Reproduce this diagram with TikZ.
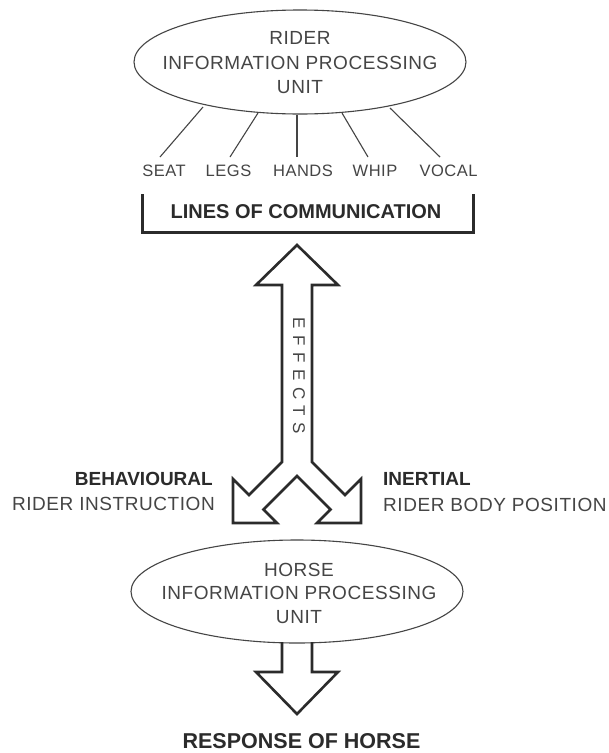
\documentclass[tikz,border=0pt]{standalone}
\usepackage{fontspec}
\setmainfont{Liberation Sans}
\newfontfamily\spacedfont[LetterSpace=3]{Liberation Sans}
\newfontfamily\widefont[LetterSpace=38]{Liberation Sans}
\usetikzlibrary{shapes.geometric}
\definecolor{ink}{HTML}{454545}
\definecolor{darkink}{HTML}{2B2B2B}
\begin{document}
\begin{tikzpicture}[x=1pt,y=-1pt,
  oval/.style={ellipse, draw=ink, line width=1.1pt, inner sep=0pt},
  ovaltext/.style={align=center, text=ink, inner sep=0pt, font=\spacedfont\fontsize{19}{24.5}\selectfont},
  channel/.style={text=ink, inner sep=0pt, anchor=base, font=\spacedfont\fontsize{16.5}{18}\selectfont},
  boldtext/.style={text=darkink, inner sep=0pt, anchor=base, font=\bfseries\fontsize{19}{22}\selectfont},
  plaintext/.style={text=ink, inner sep=0pt, anchor=base, font=\spacedfont\fontsize{19}{22}\selectfont},
  wire/.style={draw=ink, line width=1.1pt},
  blockarrow/.style={draw=darkink, line width=2.6pt, line join=miter},
  bracketline/.style={draw=darkink, line width=3pt}
]
\useasboundingbox (0,0) rectangle (609,753);
\fill[white] (0,0) rectangle (609,753);

% Rider unit
\node[oval, minimum width=332pt, minimum height=104pt] (rider) at (300,62) {};
\node[ovaltext] (ridertext) at (300,63) {RIDER\\INFORMATION PROCESSING\\UNIT};

% channels
\node[channel] (seat)  at (164,176) {SEAT};
\node[channel] (legs)  at (228.5,176) {LEGS};
\node[channel] (hands) at (303,176) {HANDS};
\node[channel] (whip)  at (375,176) {WHIP};
\node[channel] (vocal) at (448.5,176) {VOCAL};

\coordinate (t1) at (203,107);
\coordinate (b1) at (160,157);
\coordinate (t2) at (258,113);
\coordinate (b2) at (230,157);
\coordinate (t3) at (297,115);
\coordinate (b3) at (297,157);
\coordinate (t4) at (342,113);
\coordinate (b4) at (368,157);
\coordinate (t5) at (390,108);
\coordinate (b5) at (440,157);
\draw[wire] (t1) -- (b1);
\draw[wire] (t2) -- (b2);
\draw[wire] (t3) -- (b3);
\draw[wire] (t4) -- (b4);
\draw[wire] (t5) -- (b5);

% lines of communication
\node[boldtext, font=\bfseries\fontsize{20}{22}\selectfont] (loc) at (306,218) {LINES OF COMMUNICATION};
\draw[bracketline] (142,194) -- (142,232) -- (473,232) -- (473,194);

% effects arrow
\draw[blockarrow] (282,462) -- (282,285) -- (256,285) -- (297,245) -- (338,285) -- (312,285)
  -- (312,462) -- (345,495) -- (361,479) -- (361,523) -- (317,523) -- (330.5,509.5)
  -- (297,476) -- (263.5,509.5) -- (277,523) -- (233,523) -- (233,479) -- (249,495) -- cycle;
\node[text=ink, inner sep=0pt, rotate=-90, font=\widefont\fontsize{17}{18}\selectfont] (effects) at (299,376) {EFFECTS};

% side labels
\node[boldtext, anchor=base east] (behav) at (213,485) {BEHAVIOURAL};
\node[plaintext, anchor=base east] (instr) at (215,510) {RIDER INSTRUCTION};
\node[boldtext, anchor=base west] (inert) at (383,485) {INERTIAL};
\node[plaintext, anchor=base west] (bodypos) at (383,511) {RIDER BODY POSITION};

% Horse unit
\node[oval, minimum width=332pt, minimum height=103pt] (horse) at (297,591.5) {};
\node[ovaltext, font=\spacedfont\fontsize{19}{23.5}\selectfont] (horsetext) at (299,593) {HORSE\\INFORMATION PROCESSING\\UNIT};

% response arrow
\draw[blockarrow] (282,642) -- (282,672) -- (256,672) -- (297,714) -- (338,672) -- (312,672) -- (312,642);

\node[boldtext, font=\bfseries\fontsize{21.5}{24}\selectfont] (response) at (301.5,748) {RESPONSE OF HORSE};
\end{tikzpicture}
\end{document}
